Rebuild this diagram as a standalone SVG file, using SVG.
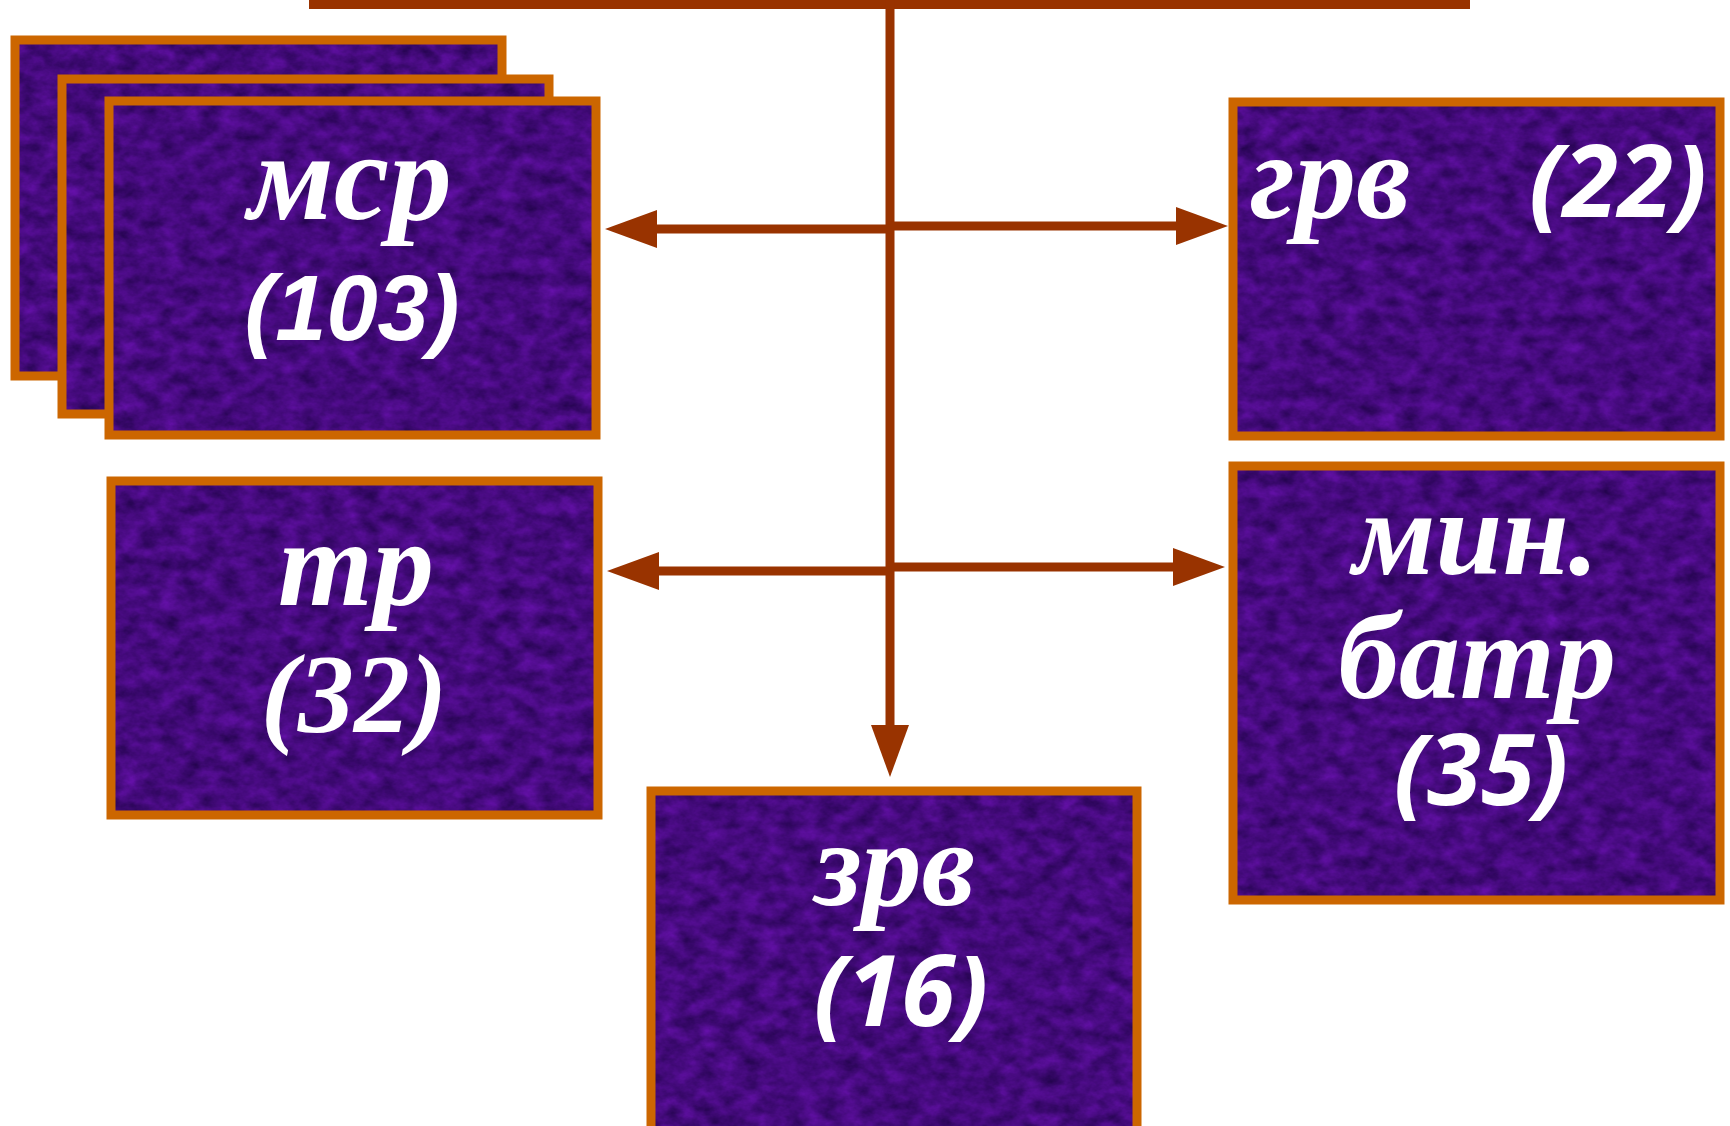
<svg xmlns="http://www.w3.org/2000/svg" width="1730" height="1126" viewBox="0 0 1730 1126">
<defs>
<style>
.box{fill:#44107c;filter:url(#felt)}
.frame{fill:none;stroke:#cc6600;stroke-width:9}
.conn{stroke:#993300;stroke-width:9;fill:none}
.serif{font-family:"Liberation Serif","Times New Roman",serif;font-weight:bold;font-style:italic;fill:#ffffff}
.sans{font-family:"Liberation Sans",Arial,sans-serif;font-weight:bold;font-style:italic;fill:#ffffff}
.open{font-family:"Open Sans","Noto Sans",sans-serif;font-weight:bold;font-style:italic;fill:#ffffff}
</style>
<filter id="felt" x="0" y="0" width="1" height="1" color-interpolation-filters="sRGB">
<feTurbulence type="fractalNoise" baseFrequency="0.05 0.07" numOctaves="4" seed="7" result="n"/>
<feColorMatrix in="n" type="matrix" values="0.3 0 0 0 0.12  0.06 0 0 0 0.01  0.42 0 0 0 0.28  0 0 0 0 1" result="c"/>
<feComposite in="c" in2="SourceGraphic" operator="in"/>
</filter>
<marker id="arrow" viewBox="0 0 52 38" refX="0" refY="19" markerWidth="52" markerHeight="38" markerUnits="userSpaceOnUse" orient="auto">
<path d="M0,0 L52,19 L0,38 z" fill="#993300"/>
</marker>
</defs>

<g id="connectors">
<line class="conn" x1="309" y1="4.5" x2="1470" y2="4.5"/>
<line class="conn" x1="890" y1="0" x2="890" y2="725" marker-end="url(#arrow)"/>
<line class="conn" x1="890" y1="229" x2="657" y2="229" marker-end="url(#arrow)"/>
<line class="conn" x1="890" y1="226" x2="1176" y2="226" marker-end="url(#arrow)"/>
<line class="conn" x1="890" y1="571" x2="659" y2="571" marker-end="url(#arrow)"/>
<line class="conn" x1="890" y1="567" x2="1173" y2="567" marker-end="url(#arrow)"/>
</g>

<g id="node-msr">
<rect class="box" x="15" y="40" width="487" height="336"/>
<rect class="frame" x="15" y="40" width="487" height="336"/>
<rect class="box" x="62" y="79" width="487" height="335"/>
<rect class="frame" x="62" y="79" width="487" height="335"/>
<rect class="box" x="109" y="101" width="487" height="334"/>
<rect class="frame" x="109" y="101" width="487" height="334"/>
<text class="serif" x="350" y="219" font-size="125" text-anchor="middle">мср</text>
<text class="sans" x="352" y="340" font-size="92" text-anchor="middle">(103)</text>
</g>

<g id="node-grv">
<rect class="box" x="1233" y="102" width="487" height="334"/>
<rect class="frame" x="1233" y="102" width="487" height="334"/>
<text class="serif" x="1250" y="218" font-size="122">грв</text>
<text class="open" x="1529" y="217" font-size="100">(22)</text>
</g>

<g id="node-tr">
<rect class="box" x="111" y="481" width="487" height="334"/>
<rect class="frame" x="111" y="481" width="487" height="334"/>
<text class="serif" x="356" y="605" font-size="122" text-anchor="middle">тр</text>
<text class="serif" x="354" y="732" font-size="112" text-anchor="middle">(32)</text>
</g>

<g id="node-minbatr">
<rect class="box" x="1233" y="466" width="487" height="434"/>
<rect class="frame" x="1233" y="466" width="487" height="434"/>
<text class="serif" x="1476" y="574" font-size="120" text-anchor="middle">мин.</text>
<text class="serif" x="1477" y="698" font-size="122" text-anchor="middle">батр</text>
<text class="open" x="1481" y="805" font-size="98" text-anchor="middle">(35)</text>
</g>

<g id="node-zrv">
<rect class="box" x="651" y="791" width="486" height="345"/>
<rect class="frame" x="651" y="791" width="486" height="345"/>
<text class="serif" x="895" y="905" font-size="120" text-anchor="middle">зрв</text>
<text class="open" x="901" y="1026" font-size="98" text-anchor="middle">(16)</text>
</g>
</svg>
